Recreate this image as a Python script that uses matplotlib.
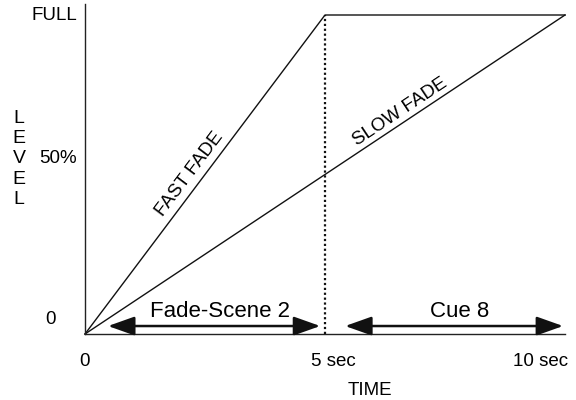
import matplotlib.pyplot as plt
import numpy as np

plt.rcParams['font.family'] = ['Liberation Sans', 'DejaVu Sans']

# fade curves (time in sec, level as fraction of full)
fast_time = [0, 5, 10]
fast_level = [0, 1, 1]
slow_time = [0, 10]
slow_level = [0, 1]
cue_split = 5

# spans shown with double arrows
span_names = ['Fade-Scene 2', 'Cue 8']
span_start = [0.48, 5.42]
span_end = [4.9, 9.96]

y_labels = ['0', '50%', 'FULL']
y_label_pos = [0.044, 0.55, 1.0]
x_labels = ['0', '5 sec', '10 sec']
x_label_pos = [0, 5.17, 9.5]

fig = plt.figure(figsize=(5.76, 4), dpi=100)
ax = fig.add_axes([85 / 576, 66 / 400, 480 / 576, 330 / 400])
ax.set_xlim(0, 10)
ax.set_ylim(0, 330 / 319)
for side in ['top', 'right']:
    ax.spines[side].set_visible(False)
for side in ['left', 'bottom']:
    ax.spines[side].set_linewidth(1.0)
    ax.spines[side].set_color('#222222')
ax.set_xticks([])
ax.set_yticks([])

ax.plot(fast_time, fast_level, color='#111111', lw=1.0, clip_on=False)
ax.plot(slow_time, slow_level, color='#111111', lw=1.0, clip_on=False)
ax.plot([cue_split, cue_split], [0, 1], color='#111111', lw=1.6, ls=(0, (1, 1.2)))

# rotation angles along the lines in screen space
def screen_angle(x0, y0, x1, y1):
    p0 = ax.transData.transform((x0, y0))
    p1 = ax.transData.transform((x1, y1))
    return np.degrees(np.arctan2(p1[1] - p0[1], p1[0] - p0[0]))

fast_angle = screen_angle(0, 0, 5, 1)
slow_angle = screen_angle(0, 0, 10, 1)
ax.text(2.17, 0.5, 'FAST FADE', rotation=fast_angle, rotation_mode='anchor',
        ha='center', va='center', fontsize=13.5)
ax.text(6.56, 0.695, 'SLOW FADE', rotation=slow_angle, rotation_mode='anchor',
        ha='center', va='center', fontsize=13.5)

for name, x0, x1 in zip(span_names, span_start, span_end):
    ax.annotate('', xy=(x1, 0.025), xytext=(x0, 0.025),
                arrowprops=dict(arrowstyle='<|-|>,head_length=0.9,head_width=0.32',
                                color='#111111', lw=1.8, shrinkA=0, shrinkB=0,
                                mutation_scale=18))
    ax.text((x0 + x1) / 2 + 0.12, 0.072, name, ha='center', va='center', fontsize=16)

for lab, y in zip(y_labels, y_label_pos):
    if lab == '0':
        ax.text(-0.71, y, lab, ha='center', va='center', fontsize=13.5, clip_on=False)
    else:
        ax.text(-0.17, y, lab, ha='right', va='center', fontsize=13.5, clip_on=False)
for lab, x in zip(x_labels, x_label_pos):
    ax.text(x, -0.085, lab, ha='center', va='center', fontsize=13.5, clip_on=False)

ax.text(5.94, -0.176, 'TIME', ha='center', va='center', fontsize=13.5, clip_on=False)
for i, ch in enumerate('LEVEL'):
    ax.text(-1.375, 0.676 - i * 0.0635, ch, ha='center', va='center', fontsize=14,
            clip_on=False)

fig.savefig('out.png', dpi=100)
